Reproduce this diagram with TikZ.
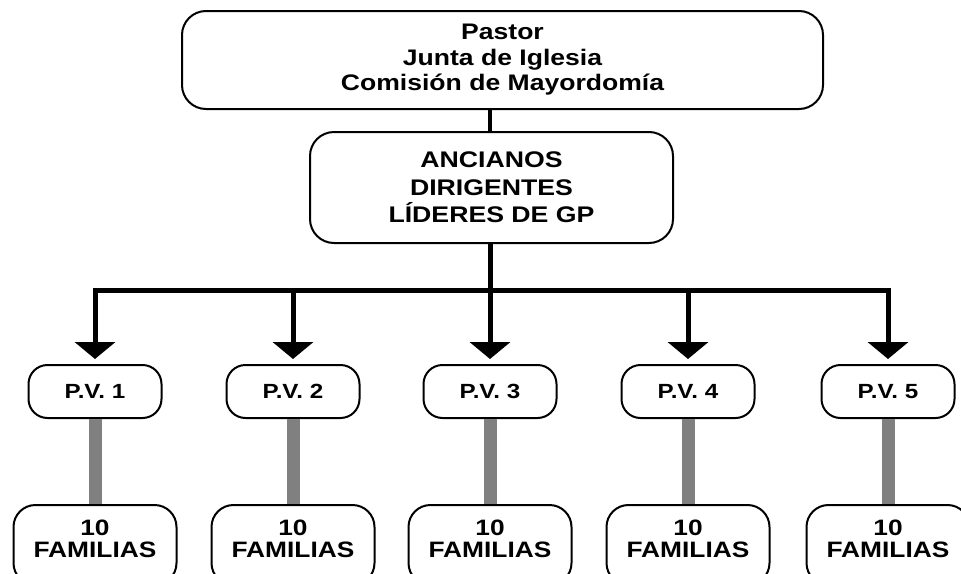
\documentclass[tikz,border=0pt]{standalone}
\usepackage{fontspec}
\newfontfamily\hv{Liberation Sans}[FakeStretch=1.18]
\usetikzlibrary{arrows.meta}
\begin{document}
\begin{tikzpicture}[x=1pt,y=-1pt,
  box/.style={draw=black, line width=2pt, rounded corners=24pt, align=center, inner sep=0pt, font=\hv\bfseries},
  pvbox/.style={box, rounded corners=19pt, minimum width=133pt, minimum height=53pt, font=\hv\bfseries\fontsize{20.5}{22}\selectfont},
  fambox/.style={draw=black, line width=2pt, rounded corners=22pt, minimum width=163pt, minimum height=80pt, inner sep=0pt},
  famtext/.style={align=center, inner sep=0pt, font=\hv\bfseries\fontsize{22.3}{22}\selectfont},
  conn/.style={line width=5pt, black, line join=miter},
  arr/.style={conn, -{Triangle[width=40pt,length=17pt]}},
  bar/.style={line width=13pt, draw=black!50},
]
\useasboundingbox (0,0) rectangle (961,573);
\clip (0,0) rectangle (961,573);
\fill[white] (0,0) rectangle (961,573);

\node[box, minimum width=641pt, minimum height=98pt, font=\hv\bfseries\fontsize{22.5}{25.5}\selectfont]
  (top) at (502.5,60) {Pastor\\Junta de Iglesia\\Comisión de Mayordomía};
\node[box, minimum width=363pt, minimum height=111pt, font=\hv\bfseries\fontsize{22.6}{27.5}\selectfont]
  (mid) at (491.5,187.5) {ANCIANOS\\DIRIGENTES\\LÍDERES DE GP};

\coordinate (bus) at (490,290);

\foreach \i/\x in {1/95,2/293,3/490,4/688,5/888}{
  \node[pvbox] (pv\i) at (\x,391.5) {P.V. \i};
  \node[fambox] (fam\i) at (\x,545) {};
  \node[famtext] (ft\i) at (\x,539) {10\\FAMILIAS};
  \draw[bar] (pv\i.south) -- (fam\i.north);
  \draw[arr] (bus) -| ([yshift=5pt]pv\i.north);
}

\draw[line width=4pt] (top.south -| bus) -- (mid.north -| bus);
\draw[conn] (mid.south -| bus) -- (bus);
\end{tikzpicture}
\end{document}
